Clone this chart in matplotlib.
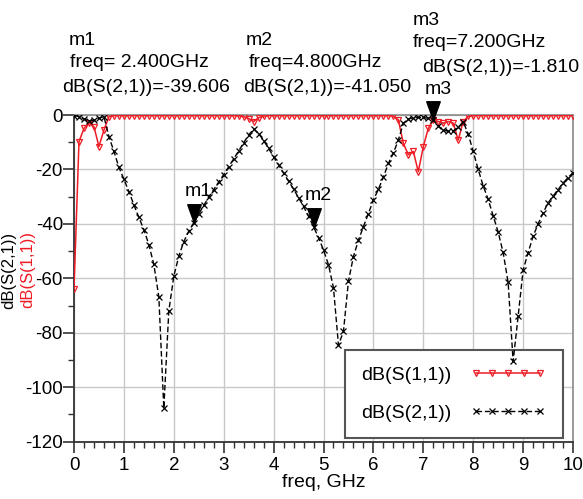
import numpy as np
import matplotlib
matplotlib.use("Agg")
import matplotlib.pyplot as plt
from matplotlib import font_manager as fm
from matplotlib.path import Path

# ---------------- data ----------------
freq = [round(0.1 * i, 1) for i in range(101)]

s21 = [-0.2, -0.6, -1.5, -2.2, -2.0, -1.2, -0.6, -7.9, -13.4, -19.2,
       -23.6, -28.1, -33.0, -37.6, -42.1, -47.6, -54.9, -66.8, -107.7, -72.0,
       -59.2, -51.9, -46.5, -42.7, -39.6, -36.3, -33.2, -30.2, -27.4, -24.6,
       -21.9, -19.0, -16.1, -13.2, -10.2, -7.3, -5.2, -6.8, -9.4, -12.3,
       -15.3, -18.3, -21.4, -24.3, -27.2, -30.4, -33.6, -37.2, -41.05, -45.0,
       -49.6, -55.0, -63.5, -84.5, -79.5, -61.0, -52.0, -46.0, -41.0, -36.2,
       -31.2, -27.3, -22.8, -17.8, -14.0, -9.2, -3.0, -1.5, -1.0, -0.9,
       -0.9, -1.2, -1.81, -4.0, -5.5, -6.0, -5.8, -4.5, -2.5, -7.0,
       -13.4, -20.0, -26.0, -31.0, -37.0, -43.0, -50.5, -61.5, -90.5, -74.0,
       -57.0, -50.6, -44.6, -40.0, -36.0, -32.3, -29.8, -27.4, -25.0, -23.0,
       -21.2]

s11 = [-64.0, -9.8, -4.9, -3.0, -4.3, -11.6, -5.5, -0.6, -0.2, -0.2,
       -0.2, -0.2, -0.2, -0.2, -0.2, -0.2, -0.2, -0.2, -0.2, -0.2,
       -0.2, -0.2, -0.2, -0.2, -0.2, -0.2, -0.2, -0.2, -0.2, -0.2,
       -0.2, -0.2, -0.2, -0.3, -0.6, -1.3, -2.4, -1.0, -0.4, -0.2,
       -0.2, -0.2, -0.2, -0.2, -0.2, -0.2, -0.2, -0.2, -0.2, -0.2,
       -0.2, -0.2, -0.2, -0.2, -0.2, -0.2, -0.2, -0.2, -0.2, -0.2,
       -0.2, -0.2, -0.2, -0.2, -0.4, -1.8, -10.4, -14.6, -13.4, -20.8,
       -11.6, -4.9, -1.8, -2.4, -3.0, -2.4, -3.0, -9.2, -2.4, -0.5,
       -0.2, -0.2, -0.2, -0.2, -0.2, -0.2, -0.2, -0.2, -0.2, -0.2,
       -0.2, -0.2, -0.2, -0.2, -0.2, -0.2, -0.2, -0.2, -0.2, -0.2,
       -0.2]

marker_names = ["m1", "m2", "m3"]
marker_freqs = [2.4, 4.8, 7.2]
marker_vals = [-39.606, -41.050, -1.810]
marker_freq_text = ["freq= 2.400GHz", "freq=4.800GHz", "freq=7.200GHz"]

xticks = list(range(0, 11))
yticks = list(range(-120, 1, 20))

# ---------------- fonts ----------------
names = {f.name for f in fm.fontManager.ttflist}
NARROW = "Liberation Sans Narrow" if "Liberation Sans Narrow" in names else "Liberation Sans"
REG = "Liberation Sans"
plt.rcParams["font.family"] = [REG, "DejaVu Sans"]
plt.rcParams["axes.unicode_minus"] = False

RED = "#ee1c25"

W, H = 583, 499
fig = plt.figure(figsize=(W / 100, H / 100), dpi=100)
L, R, T, B = 74, 573, 115, 441.7
ax = fig.add_axes([L / W, 1 - B / H, (R - L) / W, (B - T) / H])

ax.set_xlim(0, 10)
ax.set_ylim(-120, 0)
ax.set_xticks(xticks)
ax.set_yticks(yticks)
ax.set_xticks(np.arange(0, 10.01, 0.2), minor=True)
ax.set_yticks(np.arange(-120, 0.1, 10), minor=True)
ax.grid(True, which="major", color="#c8c8c8", lw=1.0)
ax.set_axisbelow(True)
for lab in ax.get_xticklabels() + ax.get_yticklabels():
    lab.set_fontfamily(NARROW)
    lab.set_fontsize(13.5)
ax.tick_params(which="major", length=8, width=1.2, color="#333333", pad=0)
ax.tick_params(which="minor", length=4.5, width=1.0, color="#333333")
ax.tick_params(axis="x", pad=3)
for s in ["left", "bottom"]:
    ax.spines[s].set_color("#333333")
    ax.spines[s].set_linewidth(1.3)
for s in ["right", "top"]:
    ax.spines[s].set_color("#8a8a8a")
    ax.spines[s].set_linewidth(1.2)

l11, = ax.plot(freq, s11, color=RED, lw=1.1, marker="v", ms=5,
               mfc="none", mec=RED, mew=0.9, label="dB(S(1,1))", zorder=3)
l21, = ax.plot(freq, s21, color="black", lw=1.0, ls=(0, (4, 2)), marker="x",
               ms=5, mew=0.9, label="dB(S(2,1))", zorder=4)

# marker triangles (tip at data point)
tri = Path([(-0.36, 1.0), (0.36, 1.0), (0.0, 0.0), (-0.36, 1.0)],
           [Path.MOVETO, Path.LINETO, Path.LINETO, Path.CLOSEPOLY])
ax.plot(marker_freqs, marker_vals, ls="none", marker=tri, ms=27,
        color="black", mec="black", zorder=6, clip_on=False)
for nm, fx, fy in zip(marker_names, marker_freqs, marker_vals):
    ax.annotate(nm, (fx, fy), xytext=(-6.5, 19), textcoords="offset points",
                ha="left", va="baseline", fontsize=14, annotation_clip=False)

# top annotation blocks (pixel positions, baselines)
blocks = [
    ((68.3, 45), (70, 66.7), (61.7, 91.7)),
    ((246, 45), (249, 66.7), (243, 91.7)),
    ((413, 25), (413, 46.7), (421.7, 71.7)),
]
for (p0, p1, p2), nm, ftxt, v in zip(blocks, marker_names, marker_freq_text, marker_vals):
    fig.text(p0[0] / W, 1 - p0[1] / H, nm, fontsize=14, va="baseline", ha="left")
    fig.text(p1[0] / W, 1 - p1[1] / H, ftxt, fontsize=14, va="baseline", ha="left")
    fig.text(p2[0] / W, 1 - p2[1] / H, "dB(S(2,1))=%.3f" % v, fontsize=14,
             va="baseline", ha="left")

# axis labels
ax.set_xlabel("freq, GHz", fontfamily=NARROW, fontsize=14, labelpad=0)
fig.text(8.8 / W, 1 - 270 / H, "dB(S(2,1))", rotation=90, color="black",
         fontsize=12, ha="center", va="center")
fig.text(27.3 / W, 1 - 270 / H, "dB(S(1,1))", rotation=90, color=RED,
         fontsize=12, ha="center", va="center")

leg = ax.legend(handles=[l11, l21], loc="lower right",
                bbox_to_anchor=((562.7 - L) / (R - L), (B - 438.3) / (B - T)),
                borderaxespad=0, markerfirst=False, numpoints=5,
                handlelength=3.9, handletextpad=0.95, borderpad=0.85,
                labelspacing=1.05, fontsize=14, fancybox=False,
                framealpha=1, edgecolor="#555555")
leg.get_frame().set_linewidth(1.5)
leg.set_zorder(3.5)

fig.savefig("out.png", dpi=100)
